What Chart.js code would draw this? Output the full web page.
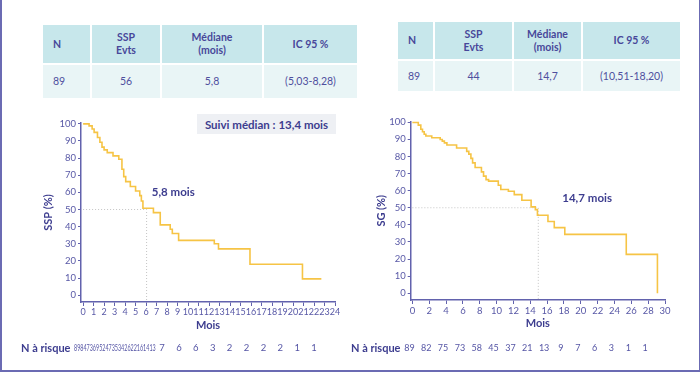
<!DOCTYPE html>
<html>
<head>
<meta charset="utf-8">
<script src="https://cdn.jsdelivr.net/npm/chart.js@4.4.1/dist/chart.umd.min.js"></script>
<style>
  body { margin: 0; width: 700px; height: 373px; position: relative; background: #fff; overflow: hidden;
         font-family: Lato, "Open Sans", sans-serif; color: #3d3d8f; }
  .frame { position: absolute; left: 0; top: 0; width: 697px; height: 370px;
           border-left: 2px solid #6b6bb3; border-right: 2px solid #6b6bb3; border-bottom: 2px solid #6b6bb3; }
  .tbl { position: absolute; display: grid; column-gap: 2px; row-gap: 2px; }
  .tbl div { display: flex; align-items: center; justify-content: center; text-align: center; font-size: 10.5px; line-height: 1.2; }
  .tbl .h { background: #c7e7eb; font-weight: bold; color: #47479a; }
  .tbl .d { background: #e9f5f6; color: #4f4f9e; }
  .tbl .first { justify-content: flex-start; padding-left: 10px; }
  .suivi { position: absolute; left: 197px; top: 114px; width: 139px; height: 20px; background: #eef0f4;
           font-weight: bold; font-size: 11.5px; display: flex; align-items: center; justify-content: center; color: #3d3d8f; }
  .risk { position: absolute; font-weight: bold; font-size: 11px; color: #3d3d8f; }
  canvas { position: absolute; }
  #riskLeft { position: absolute; left: 74px; top: 342px; height: 12px; font-size: 9.5px; color: #5555a5; }
  #riskLeft .packed { position: absolute; left: 0; top: 0; white-space: nowrap; transform-origin: 0 0; }
  #riskLeft .single { position: absolute; top: 0; width: 10px; margin-left: -5px; text-align: center; }
</style>
</head>
<body>
<div class="frame"></div>

<div class="tbl" id="tblLeft" style="left:43px; top:25px; grid-template-columns:47px 68px 100px 93px; grid-template-rows:38px 33px;"></div>
<div class="tbl" id="tblRight" style="left:398px; top:22px; grid-template-columns:35px 77px 67px 97px; grid-template-rows:37px 30px;"></div>

<div class="suivi">Suivi médian : 13,4 mois</div>

<canvas id="pfs" width="345" height="260" style="left:0; top:100px;"></canvas>
<canvas id="os" width="340" height="262" style="left:340px; top:98px;"></canvas>

<div class="risk" style="left:21px; top:341px;">N à risque</div>
<div class="risk" style="left:351px; top:341px;">N à risque</div>
<div id="riskLeft"></div>

<script>
// table contents
const tableHeader = ["N", "SSP<br>Evts", "Médiane<br>(mois)", "IC 95 %"];
const tableLeftRow = ["89", "56", "5,8", "(5,03-8,28)"];
const tableRightRow = ["89", "44", "14,7", "(10,51-18,20)"];

// SSP curve (months, % after each drop)
const pfsMonths = [0, 0.57, 0.86, 1.05, 1.37, 1.6, 1.8, 2.0, 2.3, 2.85, 3.4, 3.7, 3.87, 4.06, 4.5, 5.0, 5.4, 5.55, 5.7, 6.7, 7.35, 8.3, 8.5, 9.1, 12.5, 12.9, 15.9, 20.9, 22.7];
const pfsValues = [100, 98.8, 97, 95, 92, 89.3, 86.4, 84.8, 83.2, 81.3, 79.3, 73.5, 69.2, 66.3, 63.4, 60.8, 58.1, 55, 50.7, 48.2, 41, 38.5, 36, 32, 30, 27, 18, 9.5, 9.5];
const pfsMedian = 6.05;
const pfsTicks = [0,1,2,3,4,5,6,7,8,9,10,11,12,13,14,15,16,17,18,19,20,21,22,23,24];
const pfsRisk = [89, 84, 73, 69, 52, 47, 35, 34, 26, 22, 16, 14, 13, 7, 6, 6, 3, 2, 2, 2, 2, 1, 1];

// SG curve
const osMonths = [0, 0.7, 1.0, 1.2, 1.4, 1.6, 2.3, 3.3, 3.55, 3.8, 4.1, 5.25, 6.45, 6.7, 6.95, 7.15, 7.45, 8.2, 8.45, 8.75, 9.05, 10.2, 10.5, 11.4, 12.1, 13.0, 14.1, 14.6, 14.85, 16.1, 16.85, 18.1, 25.4, 29.1];
const osValues = [100, 98.4, 96, 94.5, 93, 92, 91, 90, 89, 88, 86.7, 85, 83, 81.4, 78.9, 76.3, 73.6, 71, 68.5, 66.5, 65.6, 63.2, 60.7, 59.7, 57.7, 54.4, 50.5, 48.9, 45.6, 42, 38.4, 34.4, 22.7, 0];
const osMedian = 14.95;
const osTicks = [0,2,4,6,8,10,12,14,16,18,20,22,24,26,28,30];
const osRisk = [89, 82, 75, 73, 58, 45, 37, 21, 13, 9, 7, 6, 3, 1, 1];

const yTicks = [0,10,20,30,40,50,60,70,80,90,100];

const axisColor = "#6262ad";
const tickColor = "#5858a6";
const titleColor = "#3d3d8f";
const curveColor = "#f6c445";
const fontFamily = "Lato, 'Open Sans', sans-serif";

function fillTable(id, rows) {
    const el = document.getElementById(id);
    rows.forEach((row, r) => {
        row.forEach((txt, c) => {
            const d = document.createElement("div");
            d.className = (r === 0 ? "h" : "d") + (c === 0 ? " first" : "");
            d.innerHTML = txt;
            el.appendChild(d);
        });
    });
}
fillTable("tblLeft", [tableHeader, tableLeftRow]);
fillTable("tblRight", [tableHeader, tableRightRow]);

// left at-risk row: two-digit counts are squeezed together, single digits spread out
(function() {
    const box = document.getElementById("riskLeft");
    const packed = document.createElement("span");
    packed.className = "packed";
    packed.textContent = pfsRisk.filter(v => v >= 10).join("");
    packed.style.transform = "scaleX(0.57)";
    box.appendChild(packed);
    const singles = pfsRisk.filter(v => v < 10);
    singles.forEach((v, i) => {
        const s = document.createElement("span");
        s.className = "single";
        s.textContent = v;
        s.style.left = (88 + i * 16.9) + "px";
        box.appendChild(s);
    });
})();

// text labels drawn through the scales
const kmLabels = {
    id: "kmLabels",
    afterDraw(chart, args, opts) {
        const { ctx, scales: { x, y } } = chart;
        ctx.save();
        ctx.fillStyle = titleColor;
        ctx.font = "bold 11.5px " + fontFamily;
        ctx.textBaseline = "middle";
        ctx.textAlign = "left";
        ctx.fillText(opts.text, x.getPixelForValue(opts.at[0]), y.getPixelForValue(opts.at[1]));
        if (opts.risk) {
            ctx.font = "9px " + fontFamily;
            ctx.fillStyle = "#5555a5";
            ctx.textAlign = "center";
            opts.risk.forEach((v, i) => {
                ctx.fillText(String(v), x.getPixelForValue(opts.riskAt[i]) - 3, opts.riskY);
            });
        }
        ctx.restore();
    }
};

function makeKM(canvasId, cfg) {
    const points = cfg.months.map((m, i) => ({ x: m, y: cfg.values[i] }));
    const medianLine = [{ x: 0, y: 50 }, { x: cfg.median, y: 50 }, { x: cfg.median, y: -4 }];
    return new Chart(document.getElementById(canvasId), {
        type: "line",
        data: {
            datasets: [
                { data: points, stepped: true, borderColor: curveColor, borderWidth: 1.6, pointRadius: 0, fill: false },
                { data: medianLine, borderColor: "#c4c4c4", borderWidth: 1, borderDash: [1, 2], pointRadius: 0, fill: false }
            ]
        },
        options: {
            responsive: false,
            animation: false,
            devicePixelRatio: 1,
            layout: { padding: cfg.padding },
            plugins: {
                legend: { display: false },
                tooltip: { enabled: false },
                kmLabels: { text: cfg.text, at: cfg.textAt, risk: cfg.risk, riskAt: cfg.riskAt, riskY: cfg.riskY }
            },
            scales: {
                x: {
                    type: "linear",
                    min: cfg.xMin,
                    max: cfg.xMax,
                    afterBuildTicks: s => { s.ticks = cfg.xTicks.map(v => ({ value: v })); },
                    afterFit: s => { s.height = 30; },
                    ticks: { font: { size: cfg.xFont, family: fontFamily }, color: tickColor, padding: 1, maxRotation: 0, autoSkip: false },
                    grid: { drawOnChartArea: false, tickLength: 4, color: axisColor },
                    border: { color: axisColor, width: 1.5 },
                    title: { display: true, text: "Mois", color: titleColor, padding: 0, font: { size: 11, weight: "bold", family: fontFamily } }
                },
                y: {
                    min: -4,
                    max: 100.5,
                    afterBuildTicks: s => { s.ticks = yTicks.map(v => ({ value: v })); },
                    afterFit: s => { s.width = cfg.yWidth; },
                    ticks: { font: { size: 9.5, family: fontFamily }, color: tickColor, padding: 2 },
                    grid: { drawOnChartArea: false, tickLength: 3, color: axisColor },
                    border: { color: axisColor, width: 1.5 },
                    title: { display: true, text: cfg.yTitle, color: titleColor, padding: 0, font: { size: 11, weight: "bold", family: fontFamily } }
                }
            }
        },
        plugins: [kmLabels]
    });
}

makeKM("pfs", {
    months: pfsMonths, values: pfsValues, median: pfsMedian,
    xMin: -0.2, xMax: 24, xTicks: pfsTicks, xFont: 9,
    yTitle: "SSP (%)", yWidth: 39,
    padding: { left: 42, top: 23, right: 10, bottom: 28 },
    text: "5,8 mois", textAt: [6.54, 60.2]
});

makeKM("os", {
    months: osMonths, values: osValues, median: osMedian,
    xMin: -0.2, xMax: 30, xTicks: osTicks, xFont: 9.5,
    yTitle: "SG (%)", yWidth: 35.7,
    padding: { left: 35, top: 23.5, right: 15, bottom: 30 },
    text: "14,7 mois", textAt: [17.8, 55.6],
    risk: osRisk, riskAt: osTicks, riskY: 250
});
</script>
</body>
</html>
